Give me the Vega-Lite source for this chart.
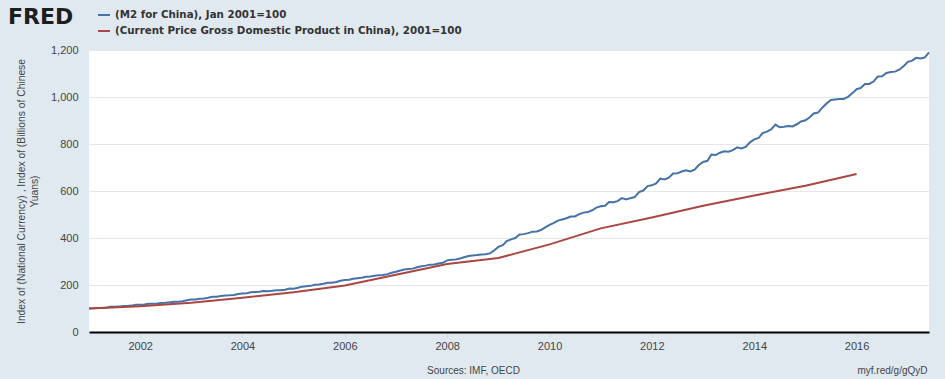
{
  "$schema": "https://vega.github.io/schema/vega-lite/v6.json",
  "width": 840,
  "height": 282,
  "autosize": "none",
  "padding": {"left": 89, "top": 50, "right": 16, "bottom": 47},
  "background": "#e1e9f0",
  "config": {
    "font": "Liberation Sans",
    "view": {"fill": "white", "stroke": null},
    "axis": {"labelFont": "Liberation Sans", "labelFontSize": 11, "labelColor": "#444", "titleFont": "Liberation Sans", "titleFontWeight": "normal", "titleFontSize": 10, "titleColor": "#444"}
  },
  "title": {"text": "FRED", "anchor": "start", "frame": "group", "dx": -81, "dy": 38, "font": "DejaVu Sans", "fontSize": 22, "fontWeight": "bold", "color": "#1e1e1e", "baseline": "alphabetic", "offset": 0},
  "datasets": {
    "m2": [
      {"d":"2001-01-01","v":100},{"d":"2001-02-01","v":100.6},{"d":"2001-03-01","v":102.1},{"d":"2001-04-01","v":102.6},{"d":"2001-05-01","v":102.8},{"d":"2001-06-01","v":107.8},{"d":"2001-07-01","v":107.4},{"d":"2001-08-01","v":108},{"d":"2001-09-01","v":110.5},{"d":"2001-10-01","v":110.6},{"d":"2001-11-01","v":112.3},{"d":"2001-12-01","v":115.5},
      {"d":"2002-01-01","v":116.4},{"d":"2002-02-01","v":117.4},{"d":"2002-03-01","v":119.7},{"d":"2002-04-01","v":119.7},{"d":"2002-05-01","v":121.2},{"d":"2002-06-01","v":123.7},{"d":"2002-07-01","v":124.7},{"d":"2002-08-01","v":126.4},{"d":"2002-09-01","v":129.1},{"d":"2002-10-01","v":129.1},{"d":"2002-11-01","v":131},{"d":"2002-12-01","v":135},
      {"d":"2003-01-01","v":138.6},{"d":"2003-02-01","v":138.7},{"d":"2003-03-01","v":141.9},{"d":"2003-04-01","v":143},{"d":"2003-05-01","v":145.7},{"d":"2003-06-01","v":149.5},{"d":"2003-07-01","v":150},{"d":"2003-08-01","v":153.3},{"d":"2003-09-01","v":155.8},{"d":"2003-10-01","v":156.5},{"d":"2003-11-01","v":157.8},{"d":"2003-12-01","v":161.4},
      {"d":"2004-01-01","v":164},{"d":"2004-02-01","v":165},{"d":"2004-03-01","v":169},{"d":"2004-04-01","v":170.4},{"d":"2004-05-01","v":171.3},{"d":"2004-06-01","v":174},{"d":"2004-07-01","v":173.6},{"d":"2004-08-01","v":175.4},{"d":"2004-09-01","v":177.8},{"d":"2004-10-01","v":177.2},{"d":"2004-11-01","v":180.2},{"d":"2004-12-01","v":185.3},
      {"d":"2005-01-01","v":184.5},{"d":"2005-02-01","v":188},{"d":"2005-03-01","v":193},{"d":"2005-04-01","v":194.7},{"d":"2005-05-01","v":196.4},{"d":"2005-06-01","v":201.2},{"d":"2005-07-01","v":202},{"d":"2005-08-01","v":205.2},{"d":"2005-09-01","v":209.7},{"d":"2005-10-01","v":209.3},{"d":"2005-11-01","v":212.6},{"d":"2005-12-01","v":218},
      {"d":"2006-01-01","v":221.4},{"d":"2006-02-01","v":222},{"d":"2006-03-01","v":226.5},{"d":"2006-04-01","v":228.8},{"d":"2006-05-01","v":231},{"d":"2006-06-01","v":235.4},{"d":"2006-07-01","v":236.3},{"d":"2006-08-01","v":239.2},{"d":"2006-09-01","v":242},{"d":"2006-10-01","v":242.7},{"d":"2006-11-01","v":246.2},{"d":"2006-12-01","v":252.1},
      {"d":"2007-01-01","v":256.4},{"d":"2007-02-01","v":261.6},{"d":"2007-03-01","v":265.6},{"d":"2007-04-01","v":268},{"d":"2007-05-01","v":269.7},{"d":"2007-06-01","v":275.6},{"d":"2007-07-01","v":280},{"d":"2007-08-01","v":282.4},{"d":"2007-09-01","v":286.7},{"d":"2007-10-01","v":287.5},{"d":"2007-11-01","v":291.6},{"d":"2007-12-01","v":294.3},
      {"d":"2008-01-01","v":304.8},{"d":"2008-02-01","v":307},{"d":"2008-03-01","v":308.6},{"d":"2008-04-01","v":313},{"d":"2008-05-01","v":318},{"d":"2008-06-01","v":323},{"d":"2008-07-01","v":325.6},{"d":"2008-08-01","v":327.4},{"d":"2008-09-01","v":330},{"d":"2008-10-01","v":330.5},{"d":"2008-11-01","v":334.5},{"d":"2008-12-01","v":346.6},
      {"d":"2009-01-01","v":362},{"d":"2009-02-01","v":369.6},{"d":"2009-03-01","v":387},{"d":"2009-04-01","v":394},{"d":"2009-05-01","v":400},{"d":"2009-06-01","v":415},{"d":"2009-07-01","v":416.5},{"d":"2009-08-01","v":420.6},{"d":"2009-09-01","v":427},{"d":"2009-10-01","v":428},{"d":"2009-11-01","v":433.7},{"d":"2009-12-01","v":445},
      {"d":"2010-01-01","v":456},{"d":"2010-02-01","v":464},{"d":"2010-03-01","v":474},{"d":"2010-04-01","v":479},{"d":"2010-05-01","v":484},{"d":"2010-06-01","v":491.5},{"d":"2010-07-01","v":491.6},{"d":"2010-08-01","v":501.5},{"d":"2010-09-01","v":508},{"d":"2010-10-01","v":510.4},{"d":"2010-11-01","v":518},{"d":"2010-12-01","v":529.4},
      {"d":"2011-01-01","v":535},{"d":"2011-02-01","v":537},{"d":"2011-03-01","v":553},{"d":"2011-04-01","v":552.4},{"d":"2011-05-01","v":556.8},{"d":"2011-06-01","v":569.5},{"d":"2011-07-01","v":563.8},{"d":"2011-08-01","v":569.5},{"d":"2011-09-01","v":574.3},{"d":"2011-10-01","v":595.8},{"d":"2011-11-01","v":602},{"d":"2011-12-01","v":621},
      {"d":"2012-01-01","v":624},{"d":"2012-02-01","v":632.5},{"d":"2012-03-01","v":653},{"d":"2012-04-01","v":649},{"d":"2012-05-01","v":656.5},{"d":"2012-06-01","v":674.7},{"d":"2012-07-01","v":675},{"d":"2012-08-01","v":683},{"d":"2012-09-01","v":688},{"d":"2012-10-01","v":683},{"d":"2012-11-01","v":690.7},{"d":"2012-12-01","v":710.5},
      {"d":"2013-01-01","v":723.7},{"d":"2013-02-01","v":728.4},{"d":"2013-03-01","v":755.5},{"d":"2013-04-01","v":753},{"d":"2013-05-01","v":763},{"d":"2013-06-01","v":769},{"d":"2013-07-01","v":767.5},{"d":"2013-08-01","v":774},{"d":"2013-09-01","v":785.8},{"d":"2013-10-01","v":780.6},{"d":"2013-11-01","v":787.2},{"d":"2013-12-01","v":807},
      {"d":"2014-01-01","v":819.5},{"d":"2014-02-01","v":825.5},{"d":"2014-03-01","v":846.6},{"d":"2014-04-01","v":852.5},{"d":"2014-05-01","v":862.4},{"d":"2014-06-01","v":882.3},{"d":"2014-07-01","v":871},{"d":"2014-08-01","v":873.5},{"d":"2014-09-01","v":876.8},{"d":"2014-10-01","v":874.7},{"d":"2014-11-01","v":884},{"d":"2014-12-01","v":896},
      {"d":"2015-01-01","v":901},{"d":"2015-02-01","v":914},{"d":"2015-03-01","v":930},{"d":"2015-04-01","v":933.6},{"d":"2015-05-01","v":954.5},{"d":"2015-06-01","v":972.6},{"d":"2015-07-01","v":987},{"d":"2015-08-01","v":989.7},{"d":"2015-09-01","v":991.8},{"d":"2015-10-01","v":992},{"d":"2015-11-01","v":1000.7},{"d":"2015-12-01","v":1015.5},
      {"d":"2016-01-01","v":1033},{"d":"2016-02-01","v":1039},{"d":"2016-03-01","v":1055},{"d":"2016-04-01","v":1055.4},{"d":"2016-05-01","v":1065.6},{"d":"2016-06-01","v":1087},{"d":"2016-07-01","v":1088},{"d":"2016-08-01","v":1102},{"d":"2016-09-01","v":1106},{"d":"2016-10-01","v":1108},{"d":"2016-11-01","v":1116},{"d":"2016-12-01","v":1130.6},
      {"d":"2017-01-01","v":1149.5},{"d":"2017-02-01","v":1154.6},{"d":"2017-03-01","v":1166.7},{"d":"2017-04-01","v":1164.3},{"d":"2017-05-01","v":1168},{"d":"2017-06-01","v":1189.9}
    ],
    "gdp": [
      {"d":"2001-01-01","v":100},{"d":"2002-01-01","v":110},{"d":"2003-01-01","v":124},{"d":"2004-01-01","v":146},{"d":"2005-01-01","v":169},{"d":"2006-01-01","v":198},{"d":"2007-01-01","v":244},{"d":"2008-01-01","v":289},{"d":"2009-01-01","v":315},{"d":"2010-01-01","v":373},{"d":"2011-01-01","v":441},{"d":"2012-01-01","v":487},{"d":"2013-01-01","v":537},{"d":"2014-01-01","v":581},{"d":"2015-01-01","v":622},{"d":"2016-01-01","v":672}
    ]
  },
  "encoding": {
    "y": {
      "field": "v", "type": "quantitative",
      "scale": {"domain": [0, 1200], "nice": false},
      "axis": {
        "values": [0, 200, 400, 600, 800, 1000, 1200], "format": ",.0f",
        "domain": false, "ticks": false, "labelPadding": 11,
        "gridColor": "#e6e6e6", "gridWidth": 1,
        "title": ["Index of (National Currency) , Index of (Billions of Chinese", "Yuans)"],
        "titleFontSize": 10.3, "titleLineHeight": 13,
        "titlePadding": 11
      }
    },
    "color": {
      "field": "s", "type": "nominal",
      "scale": {"domain": ["(M2 for China), Jan 2001=100", "(Current Price Gross Domestic Product in China), 2001=100"], "range": ["#4572a7", "#aa4643"]},
      "legend": {"orient": "none", "legendX": 8, "legendY": -42, "title": null, "symbolType": "stroke", "symbolSize": 144, "symbolStrokeWidth": 2, "labelFont": "DejaVu Sans", "labelFontSize": 10.3, "labelFontWeight": "bold", "labelColor": "#333", "labelLimit": 0, "rowPadding": 3, "labelOffset": 4, "padding": 0}
    }
  },
  "layer": [
    {
      "data": {"name": "m2"},
      "transform": [{"calculate": "'(M2 for China), Jan 2001=100'", "as": "s"}],
      "mark": {"type": "line", "strokeWidth": 2},
      "encoding": {
        "x": {
          "field": "d", "type": "temporal",
          "scale": {"domain": ["2001-01-01", "2017-06-01"]},
          "axis": {
            "orient": "bottom",
            "values": ["2002-01-01", "2004-01-01", "2006-01-01", "2008-01-01", "2010-01-01", "2012-01-01", "2014-01-01", "2016-01-01"],
            "format": "%Y", "formatType": "utc", "grid": false,
            "domainColor": "#000", "domainWidth": 2,
            "tickColor": "#cdd8e3", "tickSize": 5, "labelPadding": 3,
            "title": "Sources: IMF, OECD", "titleX": 384, "titleY": 41, "titleAlign": "center", "titleBaseline": "alphabetic"
          }
        }
      }
    },
    {
      "data": {"name": "gdp"},
      "transform": [{"calculate": "'(Current Price Gross Domestic Product in China), 2001=100'", "as": "s"}],
      "mark": {"type": "line", "strokeWidth": 2},
      "encoding": {
        "x": {
          "field": "d", "type": "temporal",
          "axis": {
            "orient": "bottom",
            "labels": false, "ticks": false, "domain": false, "grid": false,
            "title": "myf.red/g/gQyD", "titleX": 838, "titleY": 41, "titleAlign": "right", "titleBaseline": "alphabetic"
          }
        }
      }
    }
  ],
  "resolve": {"axis": {"x": "independent"}}
}
